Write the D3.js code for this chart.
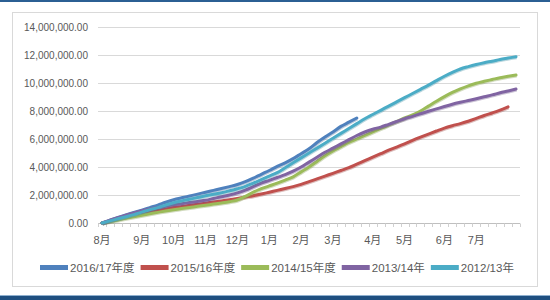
<!DOCTYPE html>
<html>
<head>
<meta charset="utf-8">
<script src="https://cdn.jsdelivr.net/npm/d3@7"></script>
<style>
  body { margin: 0; background: #fff; }
  text { font-family: "Liberation Sans", "Noto Sans CJK SC", sans-serif; fill: #595959; }
</style>
</head>
<body>
<div id="chart"></div>
<script>
// cumulative values, millions, one per week starting early August
const s2016 = [0, 0.2, 0.4, 0.58, 0.75, 0.92, 1.1, 1.28, 1.48, 1.66, 1.8, 1.93, 2.06, 2.2, 2.33, 2.46, 2.6, 2.75, 2.95, 3.2,
  3.48, 3.75, 4.05, 4.3, 4.6, 4.95, 5.3, 5.75, 6.15, 6.5, 6.9, 7.2, 7.5]
const s2015 = [0, 0.15, 0.3, 0.44, 0.57, 0.7, 0.8, 0.9, 1.0, 1.1, 1.18, 1.26, 1.34, 1.42, 1.5, 1.58, 1.66, 1.75, 1.85, 1.95,
  2.07, 2.2, 2.33, 2.46, 2.6, 2.76, 2.95, 3.15, 3.35, 3.55, 3.75, 3.95, 4.2, 4.45, 4.7, 4.95, 5.2, 5.42, 5.65, 5.9,
  6.13, 6.35, 6.57, 6.78, 6.95, 7.1, 7.27, 7.47, 7.68, 7.86, 8.06, 8.3]
const s2014 = [0, 0.1, 0.22, 0.33, 0.45, 0.56, 0.66, 0.76, 0.86, 0.95, 1.03, 1.11, 1.19, 1.27, 1.35, 1.43, 1.52, 1.64, 1.9, 2.2,
  2.45, 2.65, 2.85, 3.07, 3.3, 3.65, 4.0, 4.4, 4.8, 5.15, 5.45, 5.75, 6.0, 6.25, 6.5, 6.75, 7.0, 7.25, 7.5, 7.72,
  8.0, 8.35, 8.7, 9.03, 9.33, 9.58, 9.8, 9.98, 10.12, 10.25, 10.38, 10.48, 10.57]
const s2013 = [0, 0.2, 0.38, 0.55, 0.72, 0.88, 1.0, 1.1, 1.2, 1.3, 1.38, 1.46, 1.54, 1.62, 1.75, 1.88, 2.0, 2.15, 2.35, 2.6,
  2.85, 3.05, 3.25, 3.45, 3.7, 4.0, 4.35, 4.7, 5.05, 5.35, 5.65, 5.95, 6.25, 6.5, 6.7, 6.85, 7.05, 7.25, 7.45, 7.62,
  7.8, 7.98, 8.15, 8.32, 8.48, 8.62, 8.75, 8.88, 9.02, 9.15, 9.3, 9.43, 9.57]
const s2012 = [0, 0.15, 0.3, 0.45, 0.6, 0.78, 0.95, 1.1, 1.28, 1.45, 1.58, 1.7, 1.82, 1.94, 2.05, 2.16, 2.3, 2.45, 2.62, 2.85,
  3.1, 3.35, 3.6, 3.95, 4.3, 4.65, 5.0, 5.35, 5.7, 6.05, 6.4, 6.75, 7.1, 7.45, 7.75, 8.05, 8.35, 8.65, 8.95, 9.25,
  9.55, 9.85, 10.17, 10.48, 10.76, 11.0, 11.17, 11.32, 11.45, 11.56, 11.68, 11.78, 11.88]

const seriesNames = ['2016/17年度', '2015/16年度', '2014/15年度', '2013/14年', '2012/13年']
const seriesColors = ['#4f81bd', '#c0504d', '#9bbb59', '#8064a2', '#4bacc6']
const seriesData = [s2016, s2015, s2014, s2013, s2012]

const monthLabels = ['8月', '9月', '10月', '11月', '12月', '1月', '2月', '3月', '4月', '5月', '6月', '7月']
const monthWeeks = [0, 5, 9, 13, 17, 21, 25, 29, 34, 38, 43, 47]
const yTicks = [0, 2, 4, 6, 8, 10, 12, 14]
const weekCount = 53

const W = 550, H = 300
const svg = d3.select('#chart').append('svg').attr('width', W).attr('height', H)

// frame bits
svg.append('rect').attr('x', 0).attr('y', 0).attr('width', W).attr('height', 2).attr('fill', '#2b5f93')
svg.append('rect').attr('x', 0).attr('y', 295).attr('width', W).attr('height', 1).attr('fill', '#8fb0cf')
svg.append('rect').attr('x', 0).attr('y', 296).attr('width', W).attr('height', 4).attr('fill', '#1f4f80')
svg.append('rect').attr('x', 12.5).attr('y', 12.5).attr('width', 525).attr('height', 274)
  .attr('fill', '#fff').attr('stroke', '#d9d9d9')

const x = d3.scaleBand().domain(d3.range(weekCount)).range([98, 520])
const y = d3.scaleLinear().domain([0, 14]).range([223, 27])
const xc = i => x(i) + x.bandwidth() / 2

// gridlines + y labels
const fmt = d3.format(',.2f')
svg.append('g').selectAll('line').data(yTicks.slice(1)).join('line')
  .attr('x1', 98).attr('x2', 520)
  .attr('y1', d => Math.round(y(d)) + 0.5).attr('y2', d => Math.round(y(d)) + 0.5)
  .attr('stroke', '#d9d9d9')
svg.append('g').selectAll('text').data(yTicks).join('text')
  .attr('x', 88).attr('y', d => y(d) + 3.5)
  .attr('text-anchor', 'end').attr('font-size', 10)
  .text(d => fmt(d * 1e6))

// x axis line + minor ticks
svg.append('line').attr('x1', 98).attr('x2', 520).attr('y1', 223.5).attr('y2', 223.5).attr('stroke', '#bfbfbf')
svg.append('g').selectAll('line').data(d3.range(weekCount + 1)).join('line')
  .attr('x1', d => Math.round(d === weekCount ? 520 : x(d)) + 0.5)
  .attr('x2', d => Math.round(d === weekCount ? 520 : x(d)) + 0.5)
  .attr('y1', 223.5).attr('y2', 227).attr('stroke', '#d0d0d0')
svg.append('g').selectAll('text').data(monthLabels).join('text')
  .attr('x', (d, i) => xc(monthWeeks[i])).attr('y', 244)
  .attr('text-anchor', 'middle').attr('font-size', 11)
  .text(d => d)

// lines
const line = d3.line().x((d, i) => xc(i)).y(d => y(d)).curve(d3.curveMonotoneX)
seriesData.forEach((s, k) => {
  svg.append('path').datum(s)
    .attr('d', line)
    .attr('fill', 'none')
    .attr('stroke', d3.color(seriesColors[k]).darker(0.6))
    .attr('stroke-opacity', 0.35)
    .attr('stroke-width', 3)
    .attr('transform', 'translate(0.6,1)')
  svg.append('path').datum(s)
    .attr('d', line)
    .attr('fill', 'none')
    .attr('stroke', seriesColors[k])
    .attr('stroke-width', 3)
    .attr('stroke-linejoin', 'round')
    .attr('stroke-linecap', 'round')
})

// legend
const leg = svg.append('g')
let lx = 0
seriesNames.forEach((n, k) => {
  const g = leg.append('g').attr('transform', `translate(${lx},0)`)
  g.append('line').attr('x1', 0).attr('x2', 28).attr('y1', 0).attr('y2', 0)
    .attr('stroke', seriesColors[k]).attr('stroke-width', 5)
  const t = g.append('text').attr('x', 30).attr('y', 4).attr('font-size', 11.5).text(n)
  lx += 30 + t.node().getComputedTextLength() + 6
})
leg.attr('transform', `translate(${Math.round(277 - (lx - 6) / 2)},267.5)`)
</script>
</body>
</html>
